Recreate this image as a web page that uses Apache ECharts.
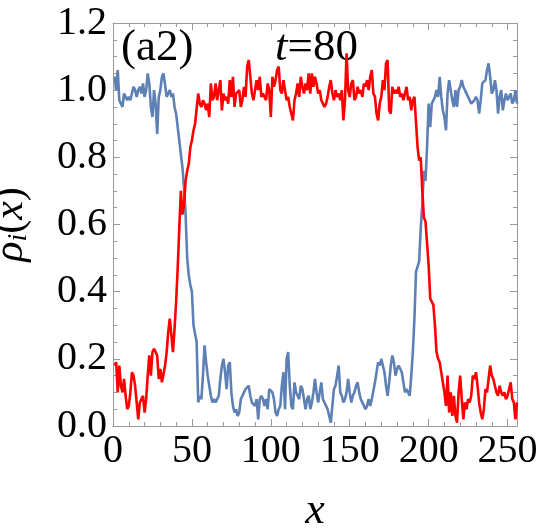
<!DOCTYPE html>
<html>
<head>
<meta charset="utf-8">
<script src="https://cdn.jsdelivr.net/npm/echarts@6/dist/echarts.min.js"></script>
<style>
  html, body { margin: 0; padding: 0; background: #fff; }
  #chart { width: 542px; height: 530px; }
</style>
</head>
<body>
<div id="chart"></div>
<script>
// rho_1 (blue) and rho_2 (red), x = 1..256
var rhoBlue = [
  1.04, 1.00, 1.06, 0.97, 0.96, 0.95, 0.99, 0.98, 0.97, 0.98,
  0.97, 0.99, 1.01, 1.00, 0.98, 1.00, 1.01, 0.99, 1.02, 0.98,
  1.00, 1.05, 1.02, 0.95, 0.92, 1.00, 0.96, 0.87, 0.98, 1.00,
  1.04, 1.05, 1.05, 0.98, 0.99, 1.00, 0.98, 0.99, 0.95, 0.93,
  0.89, 0.85, 0.81, 0.77, 0.71, 0.63, 0.50, 0.45, 0.42, 0.40,
  0.30, 0.30, 0.25, 0.07, 0.09, 0.08, 0.15, 0.24, 0.19, 0.15,
  0.12, 0.09, 0.07, 0.08, 0.07, 0.08, 0.09, 0.14, 0.18, 0.20,
  0.16, 0.11, 0.18, 0.19, 0.10, 0.06, 0.04, 0.05, 0.03, 0.04,
  0.08, 0.09, 0.10, 0.11, 0.11, 0.12, 0.09, 0.07, 0.07, 0.06,
  0.08, 0.02, 0.08, 0.09, 0.08, 0.06, 0.08, 0.05, 0.11, 0.11,
  0.10, 0.08, 0.04, 0.03, 0.05, 0.06, 0.12, 0.16, 0.05, 0.20,
  0.22, 0.12, 0.06, 0.05, 0.13, 0.10, 0.09, 0.08, 0.12, 0.11,
  0.08, 0.05, 0.08, 0.09, 0.05, 0.07, 0.10, 0.14, 0.10, 0.07,
  0.10, 0.13, 0.08, 0.07, 0.06, 0.05, 0.03, 0.01, 0.06, 0.11,
  0.12, 0.15, 0.18, 0.10, 0.09, 0.07, 0.08, 0.10, 0.14, 0.10,
  0.07, 0.09, 0.10, 0.12, 0.13, 0.10, 0.08, 0.08, 0.06, 0.05,
  0.06, 0.08, 0.06, 0.08, 0.08, 0.13, 0.16, 0.19, 0.18, 0.20,
  0.20, 0.16, 0.12, 0.09, 0.13, 0.18, 0.21, 0.19, 0.15, 0.17,
  0.18, 0.18, 0.16, 0.13, 0.10, 0.11, 0.11, 0.09, 0.15, 0.22,
  0.32, 0.46, 0.46, 0.49, 0.59, 0.66, 0.76, 0.73, 0.83, 0.96,
  0.89, 0.96, 0.97, 0.98, 1.00, 0.98, 1.04, 0.98, 0.94, 0.92,
  0.88, 0.99, 1.03, 1.00, 0.97, 0.95, 1.00, 0.95, 1.00, 1.01,
  1.03, 1.01, 1.00, 1.00, 0.98, 0.98, 0.96, 0.96, 0.97, 0.98,
  0.97, 0.93, 0.97, 1.02, 1.02, 1.03, 1.06, 1.08, 1.04, 0.99,
  1.00, 1.03, 1.00, 0.93, 0.98, 1.00, 0.94, 0.97, 0.99, 0.97,
  0.98, 0.99, 0.96, 0.97, 1.00, 0.96
];
var rhoRed = [
  0.18, 0.19, 0.10, 0.18, 0.12, 0.10, 0.14, 0.09, 0.05, 0.06,
  0.10, 0.16, 0.15, 0.12, 0.07, 0.02, 0.07, 0.07, 0.09, 0.04,
  0.08, 0.15, 0.21, 0.15, 0.22, 0.23, 0.22, 0.21, 0.14, 0.17,
  0.13, 0.13, 0.18, 0.22, 0.28, 0.32, 0.27, 0.22, 0.29, 0.37,
  0.47, 0.59, 0.70, 0.63, 0.66, 0.73, 0.76, 0.78, 0.83, 0.85,
  0.88, 0.90, 0.90, 0.99, 0.96, 0.95, 0.97, 0.96, 0.94, 0.96,
  0.92, 1.02, 0.97, 0.98, 1.02, 0.97, 1.00, 1.03, 0.94, 0.99,
  0.97, 0.98, 0.96, 1.03, 0.98, 1.04, 0.95, 0.99, 0.99, 1.00,
  0.95, 0.97, 1.01, 0.98, 1.07, 1.09, 1.04, 0.99, 0.97, 1.00,
  1.03, 1.00, 1.04, 0.98, 0.99, 0.99, 0.97, 1.02, 1.00, 0.92,
  1.04, 1.01, 1.03, 1.06, 1.07, 1.00, 0.99, 1.03, 1.00, 0.97,
  0.98, 0.95, 0.93, 0.91, 0.97, 0.99, 1.02, 0.98, 1.04, 1.01,
  0.99, 1.02, 1.00, 1.05, 0.99, 1.05, 1.01, 1.04, 1.02, 0.99,
  1.00, 0.97, 0.96, 0.95, 0.96, 0.98, 1.01, 1.03, 0.99, 0.97,
  1.00, 0.98, 0.99, 0.97, 1.00, 0.91, 0.97, 1.11, 1.00, 0.98,
  1.02, 1.03, 0.97, 0.98, 1.01, 0.99, 1.00, 0.98, 1.02, 1.01,
  1.03, 1.00, 1.04, 1.06, 0.99, 0.98, 0.93, 0.91, 0.96, 0.98,
  1.03, 1.00, 1.08, 1.09, 0.94, 0.93, 1.01, 0.99, 1.00, 0.99,
  1.01, 0.98, 0.99, 0.97, 0.99, 1.01, 0.97, 0.98, 0.94, 0.97,
  0.98, 0.98, 0.83, 0.79, 0.80, 0.70, 0.62, 0.61, 0.61, 0.48,
  0.38, 0.37, 0.36, 0.30, 0.22, 0.20, 0.19, 0.16, 0.13, 0.10,
  0.06, 0.15, 0.04, 0.10, 0.03, 0.09, 0.03, 0.01, 0.10, 0.15,
  0.08, 0.02, 0.07, 0.05, 0.08, 0.07, 0.09, 0.15, 0.14, 0.16,
  0.12, 0.07, 0.04, 0.02, 0.05, 0.11, 0.10, 0.14, 0.18, 0.15,
  0.14, 0.12, 0.10, 0.09, 0.12, 0.10, 0.09, 0.10, 0.08, 0.09,
  0.11, 0.13, 0.08, 0.07, 0.02, 0.07
];
var xMajorTicks = [0, 50, 100, 150, 200, 250];
var xMinorTicks = [10, 20, 30, 40, 60, 70, 80, 90, 110, 120, 130, 140,
  160, 170, 180, 190, 210, 220, 230, 240];

var serif = '"Liberation Serif", "Times New Roman", serif';
var frameColor = '#9a9a9a';

function toPairs(arr) {
  var out = [];
  for (var i = 0; i < arr.length; i++) {
    out.push([i + 1, arr[i]]);
  }
  return out;
}

function xAxisDef(pos, ticks, len, showLine, showLabel) {
  return {
    type: 'value',
    position: pos,
    min: 0,
    max: 256,
    axisLine: { show: showLine, onZero: false, lineStyle: { color: frameColor, width: 1 } },
    axisTick: { show: true, inside: true, length: len, customValues: ticks,
      lineStyle: { color: frameColor } },
    axisLabel: { show: showLabel, customValues: ticks, margin: 5,
      color: '#000', fontSize: 40, fontFamily: serif },
    splitLine: { show: false }
  };
}

function yAxisDef(pos, showLabel) {
  return {
    type: 'value',
    position: pos,
    min: 0,
    max: 1.2,
    interval: 0.2,
    axisLine: { show: true, onZero: false, lineStyle: { color: frameColor, width: 1 } },
    axisTick: { show: true, inside: true, length: 7, lineStyle: { color: frameColor } },
    minorTick: { show: true, splitNumber: 4, length: 4, lineStyle: { color: frameColor } },
    axisLabel: { show: showLabel, margin: 6, color: '#000', fontSize: 40, fontFamily: serif,
      formatter: function (v) { return v.toFixed(1); } },
    splitLine: { show: false }
  };
}

var chart = echarts.init(document.getElementById('chart'));

var xBottom = xAxisDef('bottom', xMajorTicks, 7, true, true);
xBottom.name = 'x';
xBottom.nameLocation = 'middle';
xBottom.nameGap = 63;
xBottom.nameTextStyle = { color: '#000', fontSize: 44, fontStyle: 'italic', fontFamily: serif };

var yLeft = yAxisDef('left', true);
yLeft.name = '{g|ρ}{s|i}{n|(}{g|x}{n|)}';
yLeft.nameLocation = 'middle';
yLeft.nameRotate = 90;
yLeft.nameGap = 80;
yLeft.nameTextStyle = {
  color: '#000', fontFamily: serif, fontSize: 42,
  rich: {
    g: { fontSize: 42, fontStyle: 'italic', fontFamily: serif, color: '#000' },
    s: { fontSize: 28, fontStyle: 'italic', fontFamily: serif, color: '#000',
      verticalAlign: 'bottom', padding: [16, 0, 0, 0] },
    n: { fontSize: 42, fontFamily: serif, color: '#000' }
  }
};

chart.setOption({
  animation: false,
  backgroundColor: '#fff',
  grid: { left: 113, right: 25, top: 23, bottom: 104, containLabel: false, outerBoundsMode: 'none' },
  xAxis: [
    xBottom,
    xAxisDef('bottom', xMinorTicks, 4, false, false),
    xAxisDef('top', xMajorTicks, 7, true, false),
    xAxisDef('top', xMinorTicks, 4, false, false)
  ],
  yAxis: [yLeft, yAxisDef('right', false)],
  graphic: [
    { type: 'text', left: 121, top: 26,
      style: { text: '(a2)', fontSize: 45, fontFamily: serif, fill: '#000' } },
    { type: 'text', left: 275, top: 26,
      style: { text: '{i|t}=80', fontSize: 45, fontFamily: serif, fill: '#000',
        rich: { i: { fontStyle: 'italic', fontSize: 45, fontFamily: serif } } } }
  ],
  series: [
    { type: 'line', name: 'rho1', data: toPairs(rhoBlue), xAxisIndex: 0, yAxisIndex: 0,
      showSymbol: false, lineStyle: { color: '#5e81b5', width: 2.6 }, itemStyle: { color: '#5e81b5' } },
    { type: 'line', name: 'rho2', data: toPairs(rhoRed), xAxisIndex: 0, yAxisIndex: 0,
      showSymbol: false, lineStyle: { color: '#ff0000', width: 2.6 }, itemStyle: { color: '#ff0000' } }
  ]
});
</script>
</body>
</html>
